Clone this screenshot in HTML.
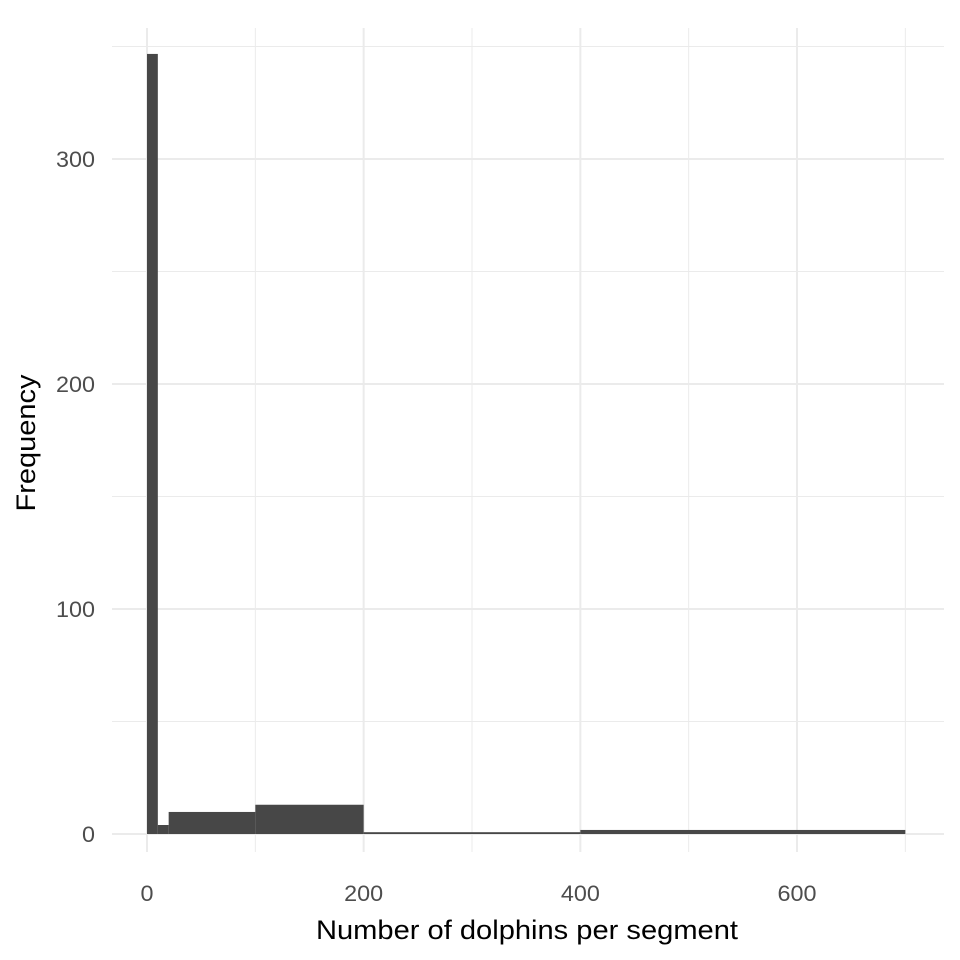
<!DOCTYPE html>
<html><head><meta charset="utf-8"><style>body{margin:0;background:#fff}svg{display:block;font-family:"Liberation Sans",sans-serif}</style></head>
<body>
<svg id="chart" width="960" height="960" xmlns="http://www.w3.org/2000/svg"></svg>
<script>
const binStarts=[0,10,20,100,200,400];
const binEnds=[10,20,100,200,400,700];
const counts=[346.7,4,9.8,13,0.8,1.8];
const xTicks=[0,200,400,600];
const xMinor=[100,300,500,700];
const yTicks=[0,100,200,300];
const yMinor=[50,150,250,350];
const NS="http://www.w3.org/2000/svg";
const svg=document.getElementById('chart');
const x=v=>147+v*(797-147)/600;
const y=v=>834-v*2.25;
function el(t,a,p){const e=document.createElementNS(NS,t);for(const k in a)e.setAttribute(k,a[k]);(p||svg).appendChild(e);return e;}
const L=112,R=944,T=28,B=852;
yMinor.forEach(v=>{const e=el('line',{x1:L,x2:R,y1:y(v),y2:y(v),stroke:'#ebebeb','stroke-width':1});

});
xMinor.forEach(v=>{const e=el('line',{x1:x(v),x2:x(v),y1:T,y2:B,stroke:'#ebebeb','stroke-width':1});

});
yTicks.forEach(v=>{const e=el('line',{x1:L,x2:R,y1:y(v),y2:y(v),stroke:'#ebebeb','stroke-width':2});


const s=String(v);
const t=el('text',{x:95,y:y(v)+8,'text-anchor':'end','font-size':22,fill:'#4d4d4d',textLength:s.length*13,lengthAdjust:'spacingAndGlyphs'});t.textContent=s;

});
xTicks.forEach(v=>{const e=el('line',{x1:x(v),x2:x(v),y1:T,y2:B,stroke:'#ebebeb','stroke-width':2});


const s=String(v);
const t=el('text',{x:x(v),y:901,'text-anchor':'middle','font-size':22,fill:'#4d4d4d',textLength:s.length*13,lengthAdjust:'spacingAndGlyphs'});t.textContent=s;

});
counts.forEach((c,i)=>{const r=el('rect',{x:x(binStarts[i]),y:y(c),width:x(binEnds[i])-x(binStarts[i]),height:y(0)-y(c),fill:'#474747'});

});
let t=el('text',{x:527,y:939,'text-anchor':'middle','font-size':27,fill:'#000',textLength:422,lengthAdjust:'spacingAndGlyphs'});t.textContent='Number of dolphins per segment';


t=el('text',{x:0,y:0,'text-anchor':'middle','font-size':27,fill:'#000',textLength:137,lengthAdjust:'spacingAndGlyphs',transform:'translate(35,443) rotate(-90)'});t.textContent='Frequency';


</script>
</body></html>
